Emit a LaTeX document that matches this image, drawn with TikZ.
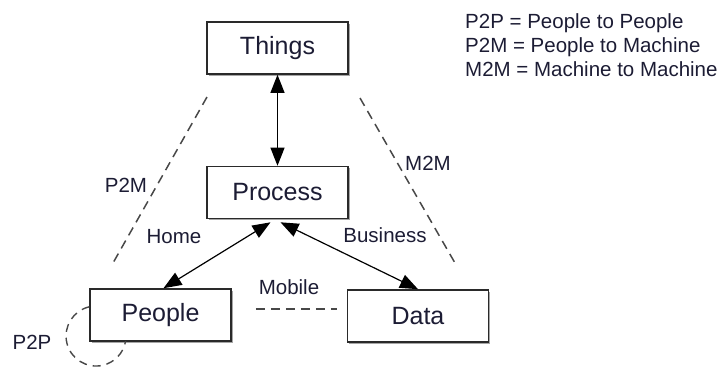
\documentclass[tikz,border=0pt]{standalone}
\usepackage{fontspec}
\setmainfont{Liberation Sans}
\usetikzlibrary{arrows.meta,shadows}

\definecolor{ink}{HTML}{1C1C34}
\definecolor{edge}{HTML}{2A2A2A}
\definecolor{dashgray}{HTML}{484848}

\tikzset{
  box/.style={draw=edge, line width=1.6pt, fill=white,
    minimum width=141pt, minimum height=52pt, inner sep=0pt,
    text=ink, font=\fontsize{25}{28}\selectfont,
    drop shadow={shadow xshift=1.6pt, shadow yshift=-1.6pt, fill=gray!70, opacity=1}},
  lbl/.style={text=ink, font=\fontsize{20.5}{24}\selectfont, inner sep=0pt},
  link/.style={draw=black, line width=1.2pt,
    {Triangle[length=18pt,width=14pt]}-{Triangle[length=18pt,width=14pt]}},
  relation/.style={draw=dashgray, line width=1.5pt, dash pattern=on 9pt off 6pt}
}

\begin{document}
\begin{tikzpicture}[x=1pt, y=-1pt]
  \useasboundingbox (0,0) rectangle (724,367);

  % entities
  \node[box] (things) at (277.5,48) {Things};
  \node[box] (proc)   at (277.5,192.5) {Process};
  \node[box] (peo)    at (160.5,315) {People};
  \node[box] (data)   at (418,316) {Data};

  % bidirectional flows
  \draw[link] (things.south) -- (proc.north);
  \draw[link] ([xshift=-7pt,yshift=-3pt]proc.south) -- ([xshift=3pt]peo.north);
  \draw[link] ([xshift=3pt,yshift=-3pt]proc.south) -- (data.north);

  % interaction kinds
  \coordinate (p2mA) at (207,97);
  \coordinate (p2mB) at (113,263);
  \coordinate (m2mA) at (360,98);
  \coordinate (m2mB) at (455,263);
  \draw[relation] (p2mA) -- (p2mB);
  \draw[relation] (m2mA) -- (m2mB);
  \draw[relation] ([xshift=24pt]peo.east |- 0,309) coordinate (mobA)
                  -- ([xshift=-10pt]data.west |- 0,309) coordinate (mobB);
  % self loop of People (radius is a length, so angles are read upright)
  \draw[relation, line width=1.4pt, dash pattern=on 8pt off 6pt]
    (89.3,306.8) arc[start angle=103, end angle=350, radius=30pt];

  % labels
  \node[lbl] (home)  at (174,237) {Home};
  \node[lbl] (bus)   at (385,235) {Business};
  \node[lbl] (mob)   at (289,287) {Mobile};
  \node[lbl] (lp2m)  at (126,185) {P2M};
  \node[lbl] (lm2m)  at (428,163) {M2M};
  \node[lbl] (lp2p)  at (32,342) {P2P};

  % legend
  \node[lbl, anchor=north west, align=left] (legend) at (465,13)
    {P2P = People to People\\P2M = People to Machine\\M2M = Machine to Machine};
\end{tikzpicture}
\end{document}
